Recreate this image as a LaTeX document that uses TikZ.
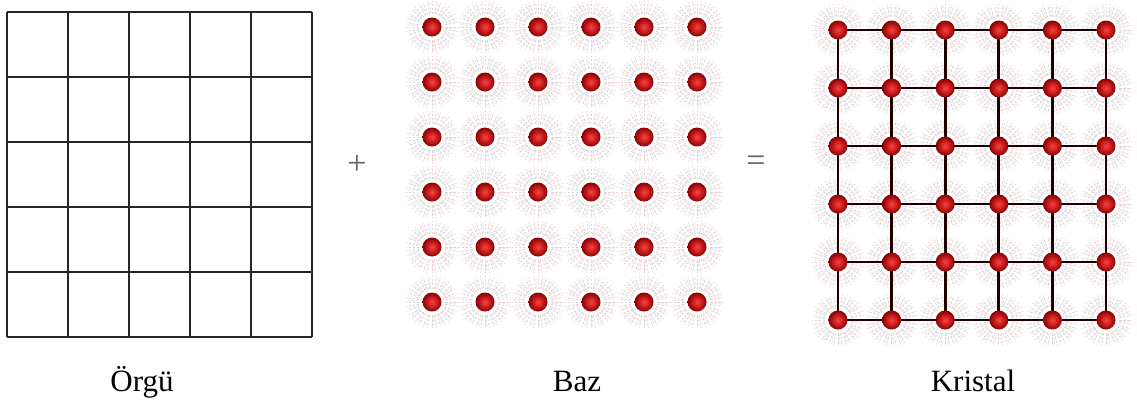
\documentclass[tikz,border=0pt]{standalone}
\usepackage{fontspec}
\setmainfont{Liberation Serif}
\begin{document}
\begin{tikzpicture}[x=1pt,y=-1pt,
  gridline/.style={line width=1.6pt,draw=black!85},
  bond/.style={line width=2.8pt,draw=black!80!red!60!black},
  atom/.style={circle,inner sep=0pt,minimum size=19pt,draw=none,
    inner color=red!75!white,outer color=red!55!black},
  halo/.style={line width=0.9pt,dash pattern=on 2.5pt off 1.5pt},
  lbl/.style={font=\fontsize{31}{36}\selectfont,anchor=base,inner sep=0pt},
  op/.style={font=\fontsize{34}{40}\selectfont,text=black!60,inner sep=0pt}]
\useasboundingbox (0,0) rectangle (1137,405);
\fill[white] (0,0) rectangle (1137,405);
% ---- left lattice grid
\foreach \i in {0,...,5}{
  \draw[gridline] ({7+61*\i},12) -- ({7+61*\i},337);
  \draw[gridline] (7,{12+65*\i}) -- (312,{12+65*\i});
}
% ---- halos
\foreach \cx/\dx/\cy/\dy in {432/53/27/55, 838/53.6/30/58}{
  \foreach \i in {0,...,5}{
    \foreach \j in {0,...,5}{
      \pgfmathsetmacro{\px}{\cx+\dx*\i}
      \pgfmathsetmacro{\py}{\cy+\dy*\j}
      \begin{scope}[shift={(\px,\py)}]
        \foreach \a in {0,10,...,350}{
          \draw[halo,draw=red!35!gray!50,opacity=0.55] (\a:13) -- (\a:26);
        }
        \foreach \a in {5,25,...,345}{
          \draw[halo,draw=cyan!40!gray!45,opacity=0.5] (\a:14) -- (\a:25);
        }
      \end{scope}
    }
  }
}
% ---- basis atoms
\foreach \i in {0,...,5}{
  \foreach \j in {0,...,5}{
    \node[atom] (b\i\j) at ({432+53*\i},{27+55*\j}) {};
  }
}
% ---- crystal atoms
\foreach \i in {0,...,5}{
  \foreach \j in {0,...,5}{
    \coordinate (k\i\j) at ({838+53.6*\i},{30+58*\j});
  }
}
\foreach \i in {0,...,5}{
  \draw[bond] (k\i0) -- (k\i5);
  \draw[bond] (k0\i) -- (k5\i);
}
\foreach \i in {0,...,5}{
  \foreach \j in {0,...,5}{
    \node[atom] (c\i\j) at (k\i\j) {};
  }
}
% ---- operators
\node[op] (plus) at (357,165) {+};
\node[op] (eq) at (756,164) {=};
% ---- labels
\node[lbl] (l1) at (142,391) {Örgü};
\node[lbl] (l2) at (577,391) {Baz};
\node[lbl] (l3) at (973,391) {Kristal};
\end{tikzpicture}
\end{document}
